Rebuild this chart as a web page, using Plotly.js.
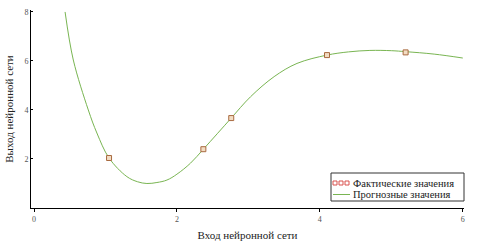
<!DOCTYPE html>
<html><head><meta charset="utf-8">
<script src="https://cdn.plot.ly/plotly-3.0.1.min.js"></script>
<style>html,body{margin:0;padding:0;background:#fff}#c{width:483px;height:241px}</style>
</head><body><div id="c"></div>
<script>
const factX = [1.05, 2.37, 2.76, 4.1, 5.2];
const factY = [2.04, 2.4, 3.67, 6.24, 6.35];
const predX = [0.435,0.55,0.76,0.88,1.05,1.30,1.45,1.58,1.72,1.86,2.0,2.19,2.37,2.57,2.76,3.03,3.36,3.68,4.1,4.4,4.7,5.0,5.2,5.6,6.0];
const predY = [8.0,6.04,4.0,3.06,2.04,1.28,1.07,1.0,1.04,1.14,1.38,1.83,2.4,3.05,3.67,4.54,5.36,5.9,6.24,6.37,6.43,6.42,6.38,6.28,6.12];
const xTicks = [0,2,4,6];
const yTicks = [2,4,6,8];
const legendLabels = ['Фактические значения', 'Прогнозные значения'];
const serif = "Liberation Serif, Times New Roman, serif";
const W = 483, H = 241, M = {l:31, r:19, t:10, b:33};
const pw = W - M.l - M.r, ph = H - M.t - M.b;
const px = v => (v - M.l) / pw;          // pixel -> paper x
const py = v => (H - M.b - v) / ph;      // pixel -> paper y
const redSq = '#d9534f';
const shapes = [
  {type:'rect', xref:'paper', yref:'paper', x0:px(331), x1:px(464), y0:py(201), y1:py(173), line:{color:'#333', width:1}, fillcolor:'#fff', layer:'above'},
  {type:'line', xref:'paper', yref:'paper', x0:px(333), x1:px(350), y0:py(194.5), y1:py(194.5), line:{color:'#79b552', width:1}, layer:'above'}
];
[333, 339, 345].forEach(s => shapes.push({type:'rect', xref:'paper', yref:'paper', x0:px(s), x1:px(s+4), y0:py(181), y1:py(185), line:{color:redSq, width:1}, fillcolor:'#fff', layer:'above'}));
const annotations = legendLabels.map((t, i) => ({xref:'paper', yref:'paper', x:px(352), y:py(i === 0 ? 183 : 194.5), xanchor:'left', yanchor:'middle', text:t, showarrow:false, borderpad:0, font:{family:serif, size:10.5, color:'#222'}}));
const traces = [
  {x: predX, y: predY, mode:'lines', line:{color:'#79b552', width:1, shape:'spline', smoothing:1}, name:legendLabels[1], showlegend:false},
  {x: factX, y: factY, mode:'markers', marker:{symbol:'square', size:5, color:'#f2dcc2', line:{color:'#a86a40', width:1}}, name:legendLabels[0], showlegend:false}
];
const layout = {
  width:W, height:H,
  margin:M,
  paper_bgcolor:'#fff', plot_bgcolor:'#fff',
  showlegend:false,
  shapes: shapes, annotations: annotations,
  xaxis:{range:[-0.042,6.017], tickvals:xTicks, ticktext:xTicks.map(String), showgrid:false, zeroline:false,
         showline:true, linecolor:'#000', linewidth:1, ticks:'outside', ticklen:3, tickcolor:'#000',
         tickfont:{family:serif, size:8, color:'#555'},
         title:{text:'Вход нейронной сети', font:{family:serif, size:11, color:'#222'}, standoff:8}},
  xaxis2:{range:[-0.042,6.017], overlaying:'x', anchor:'y', tickvals:xTicks, showticklabels:false, showgrid:false, zeroline:false,
         showline:false, ticks:'inside', ticklen:3, tickcolor:'#000'},
  yaxis:{range:[0,8.08], tickvals:yTicks, ticktext:yTicks.map(String), showgrid:false, zeroline:false,
         showline:true, linecolor:'#000', linewidth:1, ticks:'inside', ticklen:2, tickcolor:'#000',
         tickfont:{family:serif, size:8, color:'#555'},
         title:{text:'Выход нейронной сети', font:{family:serif, size:11, color:'#222'}, standoff:8}}
};
Plotly.newPlot('c', traces, layout, {displayModeBar:false, staticPlot:true});
</script></body></html>
